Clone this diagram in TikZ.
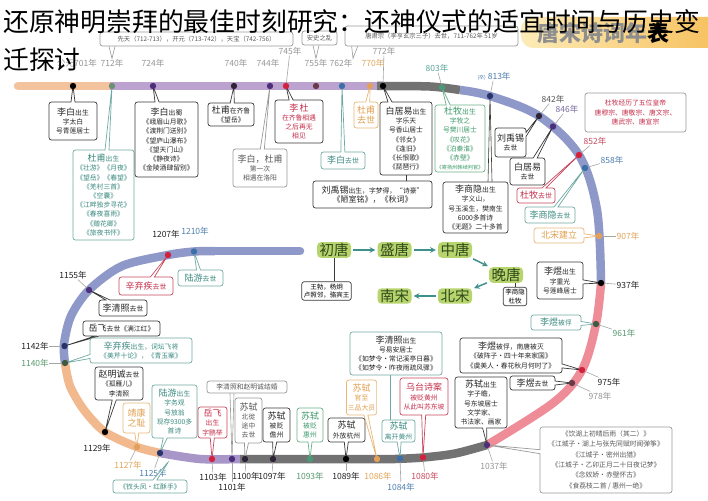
\documentclass[tikz,border=0pt]{standalone}
\usepackage{fontspec}
\setmainfont{Noto Sans CJK SC}
\usepackage{tikz}
\usetikzlibrary{shapes.callouts, arrows, positioning, calc}

\definecolor{bandorange}{HTML}{F3C39D}
\definecolor{bandpurple}{HTML}{BCA3CF}
\definecolor{bandgray}{HTML}{727272}
\definecolor{bandblue}{HTML}{8E99C9}
\definecolor{bandpink}{HTML}{EE8C98}
\definecolor{bandlilac}{HTML}{A896C9}
\definecolor{bandpeach}{HTML}{F2B98F}
\definecolor{cardline}{HTML}{3A3A3A}
\definecolor{grayline}{HTML}{9A9A9A}
\definecolor{tealline}{HTML}{6FAAA2}
\definecolor{tealtext}{HTML}{3A8A80}
\definecolor{redline}{HTML}{C8485E}
\definecolor{redtext}{HTML}{C62F4B}
\definecolor{orangeline}{HTML}{E8B878}
\definecolor{orangetext}{HTML}{E0A050}
\definecolor{greenline}{HTML}{6DB08A}
\definecolor{greentext}{HTML}{3E9A6A}
\definecolor{eragreen}{HTML}{B8D46E}
\definecolor{eratext}{HTML}{2E4A1A}
\definecolor{flowteal}{HTML}{3F8F8A}
\definecolor{bannerlight}{HTML}{FCEBB8}
\definecolor{bannerorange}{HTML}{F6BE58}
\definecolor{bannertext}{HTML}{8E8E8E}
\definecolor{dotsage}{HTML}{6A8F75}
\definecolor{dotpurple}{HTML}{4B2F7A}
\definecolor{dotdark}{HTML}{2F2338}
\definecolor{dotred}{HTML}{D3203C}
\definecolor{dotbrown}{HTML}{6A3A48}
\definecolor{dotblue}{HTML}{3B6FA8}
\definecolor{dotorange}{HTML}{E3A05A}
\definecolor{dotgreen}{HTML}{4A9A78}
\definecolor{dotnavy}{HTML}{27336A}
\definecolor{dotolive}{HTML}{3E5A40}
\definecolor{yrgray}{HTML}{959595}
\definecolor{yrdark}{HTML}{555555}
\definecolor{yrblack}{HTML}{222222}
\definecolor{yrteal}{HTML}{5AA59A}
\definecolor{yrorange}{HTML}{E2A55A}
\definecolor{yrred}{HTML}{C8485E}
\definecolor{yrblue}{HTML}{4F7FB0}
\definecolor{yrgreen}{HTML}{5A9A70}
\definecolor{yrpurple}{HTML}{7A6AA0}

\newcommand{\cardfont}{\fontsize{6.8}{9.2}\selectfont}
\newcommand{\bigname}[1]{{\fontsize{9}{11}\selectfont #1}}
\newcommand{\yrfont}{\fontsize{8.5}{10}\selectfont}
\newcommand{\erafont}{\fontsize{14.5}{16}\selectfont}
\newcommand{\titlefont}{\fontsize{25.8}{30}\selectfont}
\newcommand{\periodfont}{\fontsize{6.3}{8}\selectfont}
\newcommand{\bannerfont}{\fontsize{22}{24}\selectfont\bfseries}
\newcommand{\poetfont}{\fontsize{6.5}{8.5}\selectfont}

\tikzstyle{band} = [line width=8.5pt]
\tikzstyle{card} = [rectangle callout, callout pointer width=4pt, rounded corners=2.5pt, draw=cardline, line width=0.7pt, fill=white, text=black!85, align=center, inner sep=1.5pt, font=\cardfont]
\tikzstyle{note} = [rectangle, rounded corners=2.5pt, draw=cardline, line width=0.7pt, fill=white, text=black!85, align=center, inner sep=1.5pt, font=\cardfont]
\tikzstyle{tealbox} = [draw=tealline, text=tealtext]
\tikzstyle{redbox} = [draw=redline, text=redtext]
\tikzstyle{orangebox} = [draw=orangeline, text=orangetext]
\tikzstyle{greenbox} = [draw=greenline, text=greentext]
\tikzstyle{graybox} = [draw=grayline, text=black!65]
\tikzstyle{era} = [rectangle, rounded corners=4pt, fill=eragreen, text=eratext, font=\erafont, inner xsep=2.5pt, inner ysep=1pt]
\tikzstyle{poets} = [rectangle, rounded corners=2.5pt, draw=cardline, line width=0.7pt, fill=white, align=center, font=\poetfont, inner sep=2pt]
\tikzstyle{flow} = [line width=1.5pt, ->, >=stealth, draw=flowteal, shorten >=2pt, shorten <=2pt]
\tikzstyle{yr} = [font=\yrfont, inner sep=0.5pt]
\tikzstyle{leader} = [line width=0.6pt, draw=gray!70]

\begin{document}
\begin{tikzpicture}[x=1pt, y=-1pt, node distance=60.5pt]
\useasboundingbox (0,0) rectangle (708,500);
\fill[white] (0,0) rectangle (708,500);

\shade[left color=bannerlight, right color=bannerorange, rounded corners=12pt] (521,17) rectangle (730,48);
\node[font=\bannerfont, text=bannertext] (banner) at (603,33) {唐宋诗词年\textcolor{black}{表}};

\coordinate (d701) at (73,86);
\coordinate (d712) at (112,86);
\coordinate (d724) at (153,86);
\coordinate (d740) at (234,86);
\coordinate (d744) at (270,86);
\coordinate (d745) at (286,86);
\coordinate (d755) at (316,86);
\coordinate (d762) at (342,86);
\coordinate (d770) at (370,86);
\coordinate (d772) at (383,86);
\coordinate (d803) at (442,87.5);
\coordinate (d813) at (490,96);
\coordinate (d842) at (539,116);
\coordinate (d846) at (553,126.5);
\coordinate (d852) at (579,155);
\coordinate (d858) at (585,168);
\coordinate (d907) at (599,236);
\coordinate (d937) at (601,283);
\coordinate (d961) at (596,324);
\coordinate (d975) at (582,370);
\coordinate (d978) at (572,383);
\coordinate (d1037) at (487,445);
\coordinate (d1080) at (423,457.5);
\coordinate (d1084) at (400,458.5);
\coordinate (d1086) at (377,459);
\coordinate (d1089) at (346,459);
\coordinate (d1093) at (310,459);
\coordinate (d1097) at (273,459);
\coordinate (d1100) at (245,459);
\coordinate (d1101) at (232,459);
\coordinate (d1103) at (212,459);
\coordinate (d1125) at (160,453);
\coordinate (d1127) at (137,447);
\coordinate (d1129) at (105,432);
\coordinate (d1140) at (65,363);
\coordinate (d1142) at (64.5,346);
\coordinate (d1155) at (89,290);
\coordinate (d1207) at (168,255);
\coordinate (d1210) at (194,251.5);
\coordinate (chaitip) at (169,461);

\draw[band, bandorange, line cap=round] (18,86) -- (110,86);
\draw[band, bandpurple] (110,86) -- (377,86);
\draw[band, bandgray] plot[smooth] coordinates {(377,86) (430,86.5) (460,90)};
\draw[band, bandblue] plot[smooth, tension=0.55] coordinates {(460,90) (490,96) (539,116) (579,155) (597,210) (601,283)};
\draw[band, bandpink] plot[smooth, tension=0.55] coordinates {(601,283) (596,324) (582,370) (553,403) (487,445)};
\draw[band, bandgray] plot[smooth] coordinates {(487,445) (455,453.5) (423,457.5) (395,459)} -- (240,459);
\draw[band, bandlilac] plot[smooth] coordinates {(240,459) (200,459) (160,453)};
\draw[band, bandpeach] plot[smooth] coordinates {(160,453) (137,447) (105,432) (84,410) (70,386) (65,363)};
\draw[band, bandblue] plot[smooth] coordinates {(65,363) (64,344) (71,316) (89,290) (122,266) (168,255) (194,251.5) (215,251)};
\draw[band, bandblue, line cap=round] (215,251) -- (300,251);

\foreach \n/\x/\y/\c/\t in {
  y701/77/63/yrgray/公元701年, y712/112/63/yrgray/712年, y724/153/63/yrgray/724年,
  y740/236/63/yrgray/740年, y744/268/63/yrgray/744年, y745/290/51/yrgray/745年,
  y755/316/63/yrgray/755年, y762/341/63/yrgray/762年, y770/373/63/yrorange/770年,
  y772/384/51/yrgray/772年, y803/437/68/yrteal/803年,
  y813/494/76/yrblue/{\fontsize{5}{6}\selectfont(卒)} 813年,
  y842/553/99/yrdark/842年, y846/567/109/yrpurple/846年, y852/595/141/yrred/852年,
  y858/612/160/yrblue/858年, y907/628/236/yrorange/907年, y937/628/285/yrblack/937年,
  y961/624/333/yrgreen/961年, y975/609/382/yrblack/975年, y978/600/396/yrgray/978年,
  y1037/494/466/yrgray/1037年, y1080/425/476/yrred/1080年, y1084/401/487/yrblue/1084年,
  y1086/378/476/yrorange/1086年, y1089/346/476/yrblack/1089年, y1093/310/476/yrgreen/1093年,
  y1097/272/476/yrblack/1097年, y1100/246/476/yrblack/1100年, y1101/232/487/yrblack/1101年,
  y1103/213/477/yrblack/1103年, y1125/153/473/yrblue/1125年, y1127/128/465/yrorange/1127年,
  y1129/97/448/yrblack/1129年, y1140/35/363/yrgreen/1140年, y1142/35/346/yrblack/1142年,
  y1155/73/275/yrblack/1155年, y1207/166/234/yrblack/1207年, y1210/195/231/yrblue/1210年}
  \node[yr, text=\c] (\n) at (\x,\y) {\t};

\foreach \n in {745,772,803,813,842,846,852,858,907,937,961,975,978,1037,1080,1084,1089,1097,1100,1101,1103,1125,1127,1140,1142,1155}
  \draw[leader] (d\n) -- (y\n);

\node[note, graybox, font=\periodfont, minimum width=193pt, minimum height=14pt] (pA) at (196.5,39) {先天（712-713），开元（713-742），天宝（742-756）};
\node[note, graybox, font=\periodfont, minimum width=35pt, minimum height=14pt] (pB) at (319.5,38) {安史之乱};
\node[note, graybox, font=\periodfont, minimum width=173pt, minimum height=20pt] (pC) at (431.5,36) {唐肃宗（李亨玄宗三子）去世，711-762年 51岁};
\draw[grayline, line width=0.6pt] ($(pA.south -| y712)+(-3pt,0)$) -- (y712.north) -- ($(pA.south -| y712)+(3pt,0)$);
\draw[grayline, line width=0.6pt] ($(pB.south -| y755)+(-3pt,0)$) -- (y755.north) -- ($(pB.south -| y755)+(3pt,0)$);
\draw[grayline, line width=0.6pt] ($(pC.south west)+(7pt,0)$) -- (y762.north east) -- ($(pC.south west)+(13pt,0)$);

\node[card, minimum width=48pt, minimum height=38pt, callout absolute pointer={(d701)}] (b701) at (73,121) {\bigname{李白}出生\\字太白\\号青莲居士};
\node[card, tealbox, minimum width=61pt, minimum height=90pt, callout absolute pointer={(d712)}] (b712) at (103.5,195) {\bigname{杜甫}出生\\《壮游》《月夜》\\《望岳》《春望》\\《羌村三首》\\《空囊》\\《江畔独步寻花》\\《春夜喜雨》\\《赠花卿》\\《旅夜书怀》};
\node[card, minimum width=63pt, minimum height=75pt, callout absolute pointer={(d724)}] (b724) at (166.5,139.5) {\bigname{李白}出蜀\\《峨眉山月歌》\\《渡荆门送别》\\《望庐山瀑布》\\《望天门山》\\《静夜诗》\\《金陵酒肆留别》};
\node[card, minimum width=46pt, minimum height=23pt, callout absolute pointer={(d740)}] (b740) at (231,114.5) {\bigname{杜甫}在齐鲁\\《望岳》};
\node[card, graybox, minimum width=54pt, minimum height=38pt, callout absolute pointer={(d744)}] (b744) at (260,168) {\bigname{李白，杜甫}\\第一次\\相遇在洛阳};
\node[card, text=redtext, minimum width=48pt, minimum height=43pt, callout absolute pointer={(d745)}] (b745) at (299,121.5) {\bigname{李\,杜}\\在齐鲁相遇\\之后再无\\相见};
\node[card, tealbox, minimum width=44pt, minimum height=17pt, callout absolute pointer={(d762)}] (b762) at (343,160.5) {\bigname{李白}去世};
\node[card, orangebox, minimum width=24pt, minimum height=26pt, callout absolute pointer={(d770)}] (b770) at (366,115) {\bigname{杜甫}\\\bigname{去世}};
\node[card, minimum width=52pt, minimum height=73pt, callout absolute pointer={(d772)}] (b772) at (406,138.5) {\bigname{白居易}出生\\字乐天\\号香山居士\\《邻女》\\《逢旧》\\《长恨歌》\\《琵琶行》};
\node[note, minimum width=119pt, minimum height=27pt] (bliu) at (372.5,194.5) {\bigname{刘禹锡}出生，字梦得，“诗豪”\\{\fontsize{8}{10}\selectfont《陋室铭》，《秋词》}};
\draw[cardline, line width=0.7pt] (b772.south) -- (b772.south |- bliu.north);
\node[card, greenbox, minimum width=50pt, minimum height=67pt, callout absolute pointer={(d803)}] (b803) at (460,138.5) {\bigname{杜牧}出生\\字牧之\\号樊川居士\\《叹花》\\《泊秦淮》\\《赤壁》\\{\fontsize{5.2}{7}\selectfont《寄扬州韩绰判官》}};
\node[note, minimum width=65pt, minimum height=51pt] (b813) at (475.5,207.5) {\bigname{李商隐}出生\\字义山，\\号玉溪生，樊南生\\6000多首诗\\《无题》二十多首};
\draw[cardline, line width=0.6pt] ($(b813.north -| d813)+(-2pt,0)$) -- (d813) -- ($(b813.north -| d813)+(2pt,0)$);
\node[note, draw=grayline, text=redtext, minimum width=101pt, minimum height=39pt] (bdumu) at (635.5,112.5) {杜牧经历了五位皇帝\\唐穆宗、唐敬宗、唐文宗、\\唐武宗、唐宣宗};
\node[card, minimum width=31pt, minimum height=29pt, callout absolute pointer={(d842)}] (b842) at (510.5,142.5) {\bigname{刘禹锡}\\去世};
\node[card, minimum width=35pt, minimum height=27pt, callout absolute pointer={(d846)}] (b846) at (527.5,171.5) {\bigname{白居易}\\去世};
\node[card, redbox, minimum width=38pt, minimum height=15pt, callout absolute pointer={(d852)}] (b852) at (536,195.5) {\bigname{杜牧}去世};
\node[card, tealbox, minimum width=50pt, minimum height=16pt, callout absolute pointer={(d858)}] (b858) at (550,215) {\bigname{李商隐}去世};
\node[card, orangebox, minimum width=50pt, minimum height=15pt, callout absolute pointer={(d907)}] (b907) at (559,235.5) {\bigname{北宋建立}};
\node[card, minimum width=46pt, minimum height=37pt, callout absolute pointer={(d937)}] (b937) at (560,280.5) {\bigname{李煜}出生\\字重光\\号莲峰居士};
\node[card, tealbox, minimum width=50pt, minimum height=15pt, callout absolute pointer={(d961)}] (b961) at (556,322.5) {\bigname{李煜}被俘};
\node[card, minimum width=102pt, minimum height=35pt, callout absolute pointer={(d975)}] (b975) at (511,355.5) {\bigname{李煜}被俘，南唐被灭\\《破阵子·四十年来家国》\\《虞美人·春花秋月何时了》};
\node[card, minimum width=45pt, minimum height=14pt, callout absolute pointer={(d978)}] (b978) at (532.5,383) {\bigname{李煜}去世};
\node[card, minimum width=52pt, minimum height=51pt, callout absolute pointer={(d1037)}] (b1037) at (481,402.5) {\bigname{苏轼}出生\\字子瞻，\\号东坡居士\\文学家、\\书法家、画家};
\node[card, graybox, minimum width=132pt, minimum height=66pt, font=\fontsize{6.8}{10.4}\selectfont, callout absolute pointer={(d1037)}] (bpoems) at (606,460) {《饮湖上初晴后雨（其二）》\\《江城子·湖上与张先同赋时闻弹筝》\\《江城子·密州出猎》\\《江城子·乙卯正月二十日夜记梦》\\《念奴娇·赤壁怀古》\\《食荔枝二首 / 惠州一绝》};

\node[card, minimum width=77pt, minimum height=15pt, callout absolute pointer={(d1142)}] (b1142) at (121.5,328.5) {\bigname{岳飞}去世《满江红》};
\node[card, minimum width=48pt, minimum height=16pt, callout absolute pointer={(d1155)}] (b1155) at (123,308) {\bigname{李清照}去世};
\node[card, redbox, minimum width=54pt, minimum height=18pt, callout absolute pointer={(d1207)}] (b1207) at (146,286) {\bigname{辛弃疾}去世};
\node[card, tealbox, minimum width=45pt, minimum height=16pt, callout absolute pointer={(d1210)}] (b1210) at (200.5,278) {\bigname{陆游}去世};
\node[card, tealbox, minimum width=102pt, minimum height=25pt, callout absolute pointer={(d1140)}] (b1140) at (141,350.5) {\bigname{辛弃疾}出生，词坛飞将\\《美芹十论》，《青玉案》};
\node[card, minimum width=48pt, minimum height=33pt, callout absolute pointer={(d1129)}] (b1129) at (119,383.5) {\bigname{赵明诚}去世\\《孤雁儿》\\李清照};
\node[card, orangebox, minimum width=27pt, minimum height=30pt, callout absolute pointer={(d1127)}] (b1127) at (136.5,418) {\bigname{靖康}\\\bigname{之耻}};
\node[card, tealbox, minimum width=45pt, minimum height=53pt, callout absolute pointer={(d1125)}] (b1125) at (174.5,411.5) {\bigname{陆游}出生\\字务观\\号放翁\\现存9300多\\首诗};
\node[card, tealbox, minimum width=74pt, minimum height=13pt, callout absolute pointer={(chaitip)}] (bchai) at (150,486.5) {《钗头凤·红酥手》};
\node[card, redbox, minimum width=29pt, minimum height=31pt, callout absolute pointer={(d1103)}] (b1103) at (212.5,422.5) {\bigname{岳飞}\\出生\\字鹏举};
\node[note, graybox, minimum width=80pt, minimum height=12pt] (b1101) at (247,387) {李清照和赵明诚结婚};
\draw[grayline, line width=0.6pt] ($(b1101.south -| d1101)+(-2pt,0)$) -- (d1101) -- ($(b1101.south -| d1101)+(2pt,0)$);
\node[card, graybox, minimum width=27pt, minimum height=45pt, callout absolute pointer={(d1100)}] (b1100) at (248.5,420.5) {\bigname{苏轼}\\北徙\\途中\\去世};
\node[card, minimum width=27pt, minimum height=34pt, callout absolute pointer={(d1097)}] (b1097) at (276.5,425) {\bigname{苏轼}\\被贬\\儋州};
\node[card, greenbox, minimum width=26pt, minimum height=34pt, callout absolute pointer={(d1093)}] (b1093) at (310,425) {\bigname{苏轼}\\被贬\\惠州};
\node[card, minimum width=37pt, minimum height=24pt, callout absolute pointer={(d1089)}] (b1089) at (346.5,430) {\bigname{苏轼}\\外放杭州};
\node[card, orangebox, minimum width=27pt, minimum height=35pt, callout absolute pointer={(d1086)}] (b1086) at (361.5,397.5) {\bigname{苏轼}\\官至\\三品大员};
\node[note, tealbox, text=black!85, minimum width=92pt, minimum height=43pt] (b1084li) at (396,353.5) {\bigname{李清照}出生\\号易安居士\\《如梦令·常记溪亭日暮》\\《如梦令·昨夜雨疏风骤》};
\coordinate (lqline) at (390,421);
\draw[leader, draw=tealline] (b1084li.south -| lqline) -- (lqline);
\node[card, tealbox, minimum width=33pt, minimum height=22pt, callout absolute pointer={(d1084)}] (b1084) at (398.5,431) {\bigname{苏轼}\\离开黄州};
\node[card, redbox, minimum width=48pt, minimum height=37pt, callout absolute pointer={(d1080)}] (b1080) at (424,396.5) {\bigname{乌台诗案}\\被贬黄州\\从此叫苏东坡};

\node[era] (chutang) at (334,250) {初唐};
\node[era, right of=chutang] (shengtang) {盛唐};
\node[era, right of=shengtang] (zhongtang) {中唐};
\node[era] (wantang) at (506,275) {晚唐};
\node[era] (beisong) at (455,296) {北宋};
\node[era, left of=beisong] (nansong) {南宋};
\draw[flow] (chutang) -- (shengtang);
\draw[flow] (shengtang) -- (zhongtang);
\draw[flow] (zhongtang) -- (wantang);
\draw[flow] (wantang) -- (beisong);
\draw[flow] (beisong) -- (nansong);
\node[poets] (tangpoets) at (326.5,291) {王勃，杨炯\\卢照邻，骆宾王};
\node[poets] (wanpoets) at (515,296.5) {李商隐\\杜牧};
\draw[cardline, line width=0.8pt] (chutang.south) -- (chutang.south |- tangpoets.north);
\draw[cardline, line width=0.8pt] (wantang.south -| wanpoets) -- (wanpoets.north);

\foreach \n/\c in {701/black, 712/dotsage, 724/dotpurple, 740/dotdark, 744/dotpurple, 745/dotred,
  755/dotbrown, 762/dotblue, 770/dotorange, 772/black, 803/dotgreen, 813/dotnavy, 842/dotdark,
  846/dotpurple, 852/dotred, 858/dotblue, 907/dotorange, 937/black, 961/dotolive, 975/dotred,
  978/dotbrown, 1037/dotpurple, 1080/dotred, 1084/dotblue, 1086/dotorange, 1089/black,
  1093/dotgreen, 1097/dotdark, 1100/dotdark, 1101/dotpurple, 1103/dotred, 1125/dotnavy,
  1127/dotorange, 1129/black, 1140/dotolive, 1142/dotnavy, 1155/dotpurple, 1207/dotred, 1210/dotblue}
  \fill[\c] (d\n) circle (3.2pt);

\node[anchor=west, inner sep=0pt, font=\titlefont] (title) at (3,22) {还原神明崇拜的最佳时刻研究：还神仪式的适宜时间与历史变};
\node[anchor=west, inner sep=0pt, font=\titlefont] (title2) at (3,60) {迁探讨};
\end{tikzpicture}
\end{document}
